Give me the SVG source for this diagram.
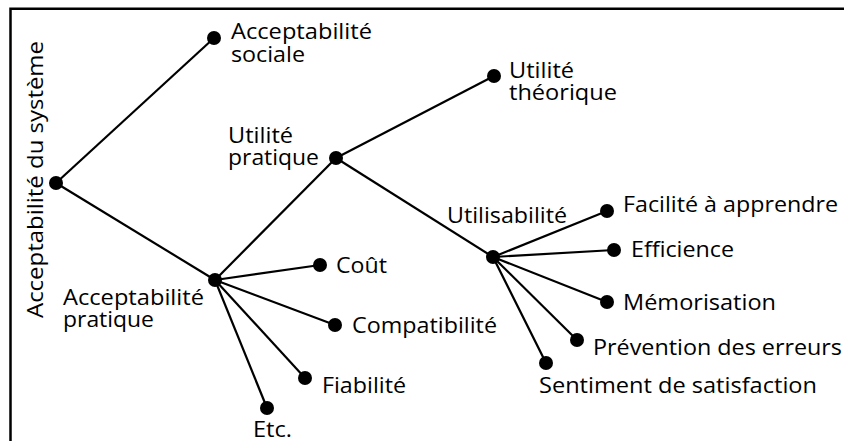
<svg xmlns="http://www.w3.org/2000/svg" width="844" height="441" viewBox="0 0 844 441">
<style>
text{font-family:"Open Sans","Noto Sans","Liberation Sans",sans-serif;font-size:21.5px;fill:#000}
.c{stroke:#000;stroke-width:2.2;fill:none}
.d{fill:#000}
</style>
<rect x="0" y="0" width="844" height="441" fill="#fff"/>
<path d="M10.5,441 V8.7 H844" fill="none" stroke="#000" stroke-width="2.5"/>
<g id="connectors" class="c">
<line x1="56" y1="183" x2="214" y2="38"/>
<line x1="56" y1="183" x2="215" y2="280"/>
<line x1="215" y1="280" x2="336" y2="158"/>
<line x1="215" y1="280" x2="320" y2="265"/>
<line x1="215" y1="280" x2="335" y2="325"/>
<line x1="215" y1="280" x2="305" y2="378"/>
<line x1="215" y1="280" x2="267" y2="408"/>
<line x1="336" y1="158" x2="494" y2="76"/>
<line x1="336" y1="158" x2="493" y2="257"/>
<line x1="493" y1="257" x2="607" y2="211"/>
<line x1="493" y1="257" x2="614" y2="250"/>
<line x1="493" y1="257" x2="607" y2="302"/>
<line x1="493" y1="257" x2="577" y2="340"/>
<line x1="493" y1="257" x2="546" y2="363"/>
</g>
<g id="root"><circle class="d" cx="56" cy="183" r="7"/><text transform="translate(43,318) rotate(-90)" textLength="277" lengthAdjust="spacingAndGlyphs">Acceptabilité du système</text></g>
<g id="sociale"><circle class="d" cx="214" cy="38" r="7"/><text x="231" y="39" textLength="141" lengthAdjust="spacingAndGlyphs">Acceptabilité</text><text x="231" y="62" textLength="74" lengthAdjust="spacingAndGlyphs">sociale</text></g>
<g id="pratique"><circle class="d" cx="215" cy="280" r="7"/><text x="63" y="305" textLength="141" lengthAdjust="spacingAndGlyphs">Acceptabilité</text><text x="63" y="327" textLength="91" lengthAdjust="spacingAndGlyphs">pratique</text></g>
<g id="utilite-pratique"><circle class="d" cx="336" cy="158" r="7"/><text x="228" y="143" textLength="65" lengthAdjust="spacingAndGlyphs">Utilité</text><text x="228" y="165" textLength="91" lengthAdjust="spacingAndGlyphs">pratique</text></g>
<g id="utilite-theorique"><circle class="d" cx="494" cy="76" r="7"/><text x="509" y="78" textLength="65" lengthAdjust="spacingAndGlyphs">Utilité</text><text x="509" y="100" textLength="108" lengthAdjust="spacingAndGlyphs">théorique</text></g>
<g id="cout"><circle class="d" cx="320" cy="265" r="7"/><text x="336" y="273" textLength="51" lengthAdjust="spacingAndGlyphs">Coût</text></g>
<g id="compatibilite"><circle class="d" cx="335" cy="325" r="7"/><text x="352" y="333" textLength="145" lengthAdjust="spacingAndGlyphs">Compatibilité</text></g>
<g id="fiabilite"><circle class="d" cx="305" cy="378" r="7"/><text x="322" y="393" textLength="84" lengthAdjust="spacingAndGlyphs">Fiabilité</text></g>
<g id="etc"><circle class="d" cx="267" cy="408" r="7"/><text x="253" y="437" textLength="39" lengthAdjust="spacingAndGlyphs">Etc.</text></g>
<g id="utilisabilite"><circle class="d" cx="493" cy="257" r="7"/><text x="447" y="223" textLength="120" lengthAdjust="spacingAndGlyphs">Utilisabilité</text></g>
<g id="facilite"><circle class="d" cx="607" cy="211" r="7"/><text x="623" y="212" textLength="215" lengthAdjust="spacingAndGlyphs">Facilité à apprendre</text></g>
<g id="efficience"><circle class="d" cx="614" cy="250" r="7"/><text x="631" y="257" textLength="103" lengthAdjust="spacingAndGlyphs">Efficience</text></g>
<g id="memorisation"><circle class="d" cx="607" cy="302" r="7"/><text x="623" y="310" textLength="153" lengthAdjust="spacingAndGlyphs">Mémorisation</text></g>
<g id="prevention"><circle class="d" cx="577" cy="340" r="7"/><text x="593" y="355" textLength="249" lengthAdjust="spacingAndGlyphs">Prévention des erreurs</text></g>
<g id="sentiment"><circle class="d" cx="546" cy="363" r="7"/><text x="539" y="393" textLength="278" lengthAdjust="spacingAndGlyphs">Sentiment de satisfaction</text></g>
</svg>
